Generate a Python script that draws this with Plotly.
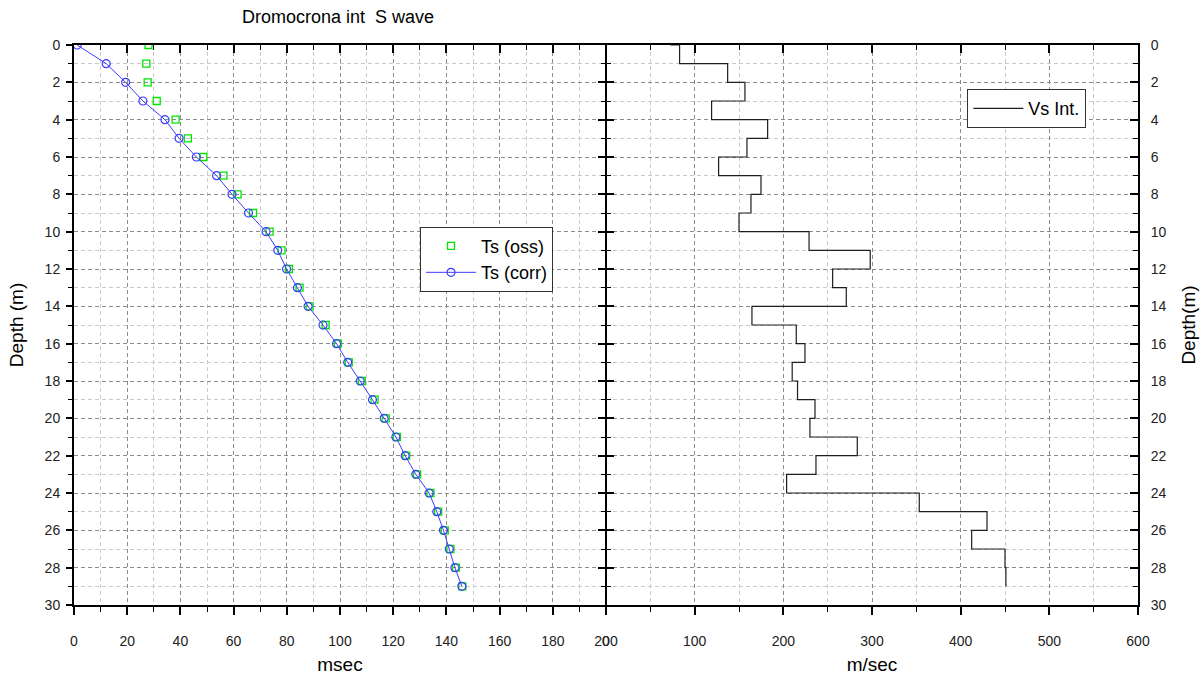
import plotly.graph_objects as go

# ---- data ----
depth = list(range(0, 30))
ts_oss = [28.0, 27.2, 27.7, 31.1, 38.2, 42.8, 48.6, 56.2, 61.5, 67.3,
          73.5, 78.0, 80.8, 84.8, 88.6, 94.6, 99.2, 103.3, 108.2, 113.0,
          117.2, 121.4, 124.9, 129.0, 134.0, 136.9, 139.4, 141.5, 143.6, 146.0]
ts_corr = [1.2, 12.1, 19.4, 25.9, 34.2, 39.5, 46.0, 53.6, 59.4, 65.6,
           72.2, 76.6, 79.9, 84.0, 88.0, 93.6, 98.7, 102.9, 107.6, 112.2,
           116.6, 121.0, 124.5, 128.5, 133.5, 136.4, 138.9, 141.1, 143.2, 145.8]
vs_int = [72.6, 83.0, 137.2, 156.7, 119.1, 182.3, 159.0, 127.0, 174.8, 163.5,
          150.0, 229.0, 298.0, 255.6, 271.0, 164.6, 214.6, 224.4, 210.0, 216.0,
          235.7, 230.0, 283.4, 236.8, 203.7, 353.3, 429.7, 412.4, 450.0, 451.0]

title_text = "Dromocrona int\u00a0 S wave"
FONT = "Liberation Sans, Arial, sans-serif"
TICKC = "#222222"
MAJ_GRID = "#8c8c8c"
MIN_GRID = "#cacaca"
DASH = "4px,3px"

fig = go.Figure()

fig.add_trace(go.Scatter(
    x=ts_oss, y=depth, mode="markers", name="Ts (oss)",
    marker=dict(symbol="square-open", size=7, color="#00e600", line=dict(width=1.3)),
    xaxis="x", yaxis="y", legend="legend"))
fig.add_trace(go.Scatter(
    x=ts_corr, y=depth, mode="lines+markers", name="Ts (corr)",
    line=dict(color="#3c3cff", width=1),
    marker=dict(symbol="circle-open", size=8, color="#3c3cff", line=dict(width=1.2)),
    xaxis="x", yaxis="y", legend="legend"))
fig.add_trace(go.Scatter(
    x=vs_int, y=depth, mode="lines", name="Vs Int.", line_shape="hv",
    line=dict(color="#1e1e1e", width=1.2),
    xaxis="x2", yaxis="y2", legend="legend2"))

# dummy traces so mirror axes are drawn
for xa, ya in [("x3", "y"), ("x", "y3"), ("x4", "y2"), ("x2", "y4")]:
    fig.add_trace(go.Scatter(x=[None], y=[None], xaxis=xa, yaxis=ya,
                             showlegend=False, hoverinfo="skip"))


def grid_axis(rng, dtick, mdtick, ticks, ticklen, mticklen, **kw):
    d = dict(
        range=rng, tick0=0, dtick=dtick, ticks=ticks, ticklen=ticklen,
        tickwidth=1.5, tickcolor="black",
        showline=True, linecolor="black", linewidth=2,
        showgrid=True, gridcolor=MAJ_GRID, griddash=DASH, gridwidth=1,
        zeroline=False, automargin=False,
        minor=dict(dtick=mdtick, tick0=0, ticks=ticks, ticklen=mticklen,
                   tickwidth=1.2, tickcolor="black",
                   showgrid=True, gridcolor=MIN_GRID, griddash=DASH, gridwidth=1),
        tickfont=dict(family=FONT, size=14, color=TICKC),
        title_font=dict(family=FONT, size=19, color="black"),
    )
    d.update(kw)
    return d


def mirror_axis(rng, dtick, mdtick, ticklen, mticklen, lw=2, **kw):
    d = dict(
        range=rng, tick0=0, dtick=dtick, ticks="inside", ticklen=ticklen,
        tickwidth=1.5, tickcolor="black", showticklabels=False,
        showline=True, linecolor="black", linewidth=lw,
        showgrid=False, zeroline=False, automargin=False,
        minor=dict(dtick=mdtick, tick0=0, ticks="inside", ticklen=mticklen,
                   tickwidth=1.2, tickcolor="black", showgrid=False),
    )
    d.update(kw)
    return d


fig.update_layout(
    width=1203, height=675,
    margin=dict(l=74, r=65, t=45, b=70, autoexpand=False),
    paper_bgcolor="white", plot_bgcolor="white",
    font=dict(family=FONT, color="black"),
    xaxis=grid_axis([0, 200], 20, 10, "outside", 8, 5,
                    domain=[0, 0.5], anchor="y",
                    title=dict(text="msec", standoff=11),
                    ticklabelstandoff=14),
    yaxis=grid_axis([30, 0], 2, 1, "outside", 6, 4,
                    domain=[0, 1], anchor="x",
                    title=dict(text="Depth (m)", standoff=16),
                    ticklabelstandoff=3),
    xaxis2=grid_axis([0, 600], 100, 50, "outside", 8, 5,
                     domain=[0.5, 1], anchor="y2",
                     title=dict(text="m/sec", standoff=11),
                     ticklabelstandoff=14),
    yaxis2=grid_axis([30, 0], 2, 1, "inside", 8, 5,
                     domain=[0, 1], anchor="x2", side="right",
                     title=dict(text="Depth(m)", standoff=16),
                     ticklabelstandoff=8),
    xaxis3=mirror_axis([0, 200], 20, 10, 8, 5, overlaying="x", side="top", anchor="y"),
    yaxis3=mirror_axis([30, 0], 2, 1, 8, 5, lw=1, overlaying="y", side="right", anchor="x"),
    xaxis4=mirror_axis([0, 600], 100, 50, 8, 5, overlaying="x2", side="top", anchor="y2"),
    yaxis4=mirror_axis([30, 0], 2, 1, 8, 5, lw=1, overlaying="y2", side="left", anchor="x2"),
    legend=dict(x=0.3252, y=0.6755, xanchor="left", yanchor="top",
                bgcolor="white", bordercolor="#333333", borderwidth=1,
                font=dict(family=FONT, size=18, color="black"),
                itemwidth=50, tracegroupgap=0),
    legend2=dict(x=0.8396, y=0.921, xanchor="left", yanchor="top",
                 bgcolor="white", bordercolor="#333333", borderwidth=1,
                 font=dict(family=FONT, size=18, color="black"),
                 itemwidth=50),
    showlegend=True,
    annotations=[dict(text=title_text, xref="paper", yref="paper",
                      x=(240 - 74) / 1064, y=1 + (45 - 17) / 560,
                      xanchor="left", yanchor="middle", showarrow=False,
                      font=dict(family=FONT, size=18, color="black"))],
)

fig.write_html("out.html")
